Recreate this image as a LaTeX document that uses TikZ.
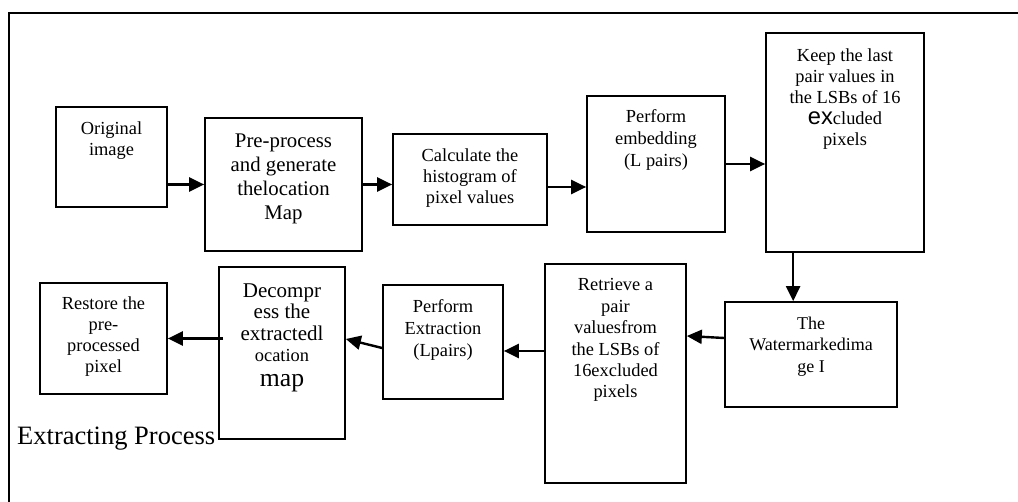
\documentclass[tikz,border=0pt]{standalone}
\usepackage{fontspec}
\setmainfont{Liberation Serif}
\setsansfont{Liberation Sans}
\usetikzlibrary{arrows.meta,positioning}

\tikzset{
	box/.style={draw, line width=1.7pt, inner sep=0pt},
	txt/.style={align=center, inner sep=0pt, font=\fontsize{18.4}{21}\selectfont},
	arr/.style={->, line width=2.4pt},
}

\begin{document}
\begin{tikzpicture}[x=1pt, y=-1pt, >={Triangle[length=15pt,width=14pt]}]
	\useasboundingbox (0,0) rectangle (1018,502);
	\draw[line width=2.2pt] (9,13) rectangle (1040,530);

	% embedding process
	\node[box, minimum width=111pt, minimum height=100pt] (orig) at (111.5,157) {};
	\node[box, minimum width=157pt, minimum height=133pt] (pre) at (283.5,184.5) {};
	\node[box, minimum width=154pt, minimum height=91pt] (calc) at (470,179.5) {};
	\node[box, minimum width=138pt, minimum height=136pt] (embed) at (656,164) {};
	\node[box, minimum width=158pt, minimum height=219pt] (keep) at (845,142.5) {};

	% extracting process
	\node[box, minimum width=172pt, minimum height=105pt] (wm) at (811,354.5) {};
	\node[box, minimum width=141pt, minimum height=219pt] (retr) at (615.5,373.5) {};
	\node[box, minimum width=120pt, minimum height=114pt] (pext) at (443,342) {};
	\node[box, minimum width=126pt, minimum height=172pt] (decomp) at (282,353) {};
	\node[box, minimum width=127pt, minimum height=111pt] (restore) at (103.5,338.5) {};

	\node[txt, below=15.4pt of orig.north] (origT) {Original\\image};
	\node[txt, font=\fontsize{20.8}{24}\selectfont, below=17pt of pre.north] (preT) {Pre-process\\and generate\\thelocation\\Map};
	\node[txt, below=15.4pt of calc.north] (calcT) {Calculate the\\histogram of\\pixel values};
	\node[txt, font=\fontsize{18.4}{22}\selectfont, below=14.4pt of embed.north] (embedT) {Perform\\embedding\\(L pairs)};
	\node[txt, below=16.4pt of keep.north] (keepT) {Keep the last\\pair values in\\the LSBs of 16\\{\sffamily\fontsize{23.7}{24}\selectfont ex}cluded\\pixels};
	\node[txt, font=\fontsize{18}{21.5}\selectfont, below=15.4pt of wm.north] (wmT) {The\\Watermarkedima\\ge I};
	\node[txt, font=\fontsize{18.4}{21.4}\selectfont, below=15.4pt of retr.north] (retrT) {Retrieve a\\pair\\valuesfrom\\the LSBs of\\16excluded\\pixels};
	\node[txt, font=\fontsize{18.4}{22}\selectfont, below=15.4pt of pext.north] (pextT) {Perform\\Extraction\\(Lpairs)};
	\node[txt, font=\fontsize{21}{21.5}\selectfont, below=17pt of decomp.north] (decompT) {Decompr\\ess the\\extractedl\\{\fontsize{18.4}{21}\selectfont ocation}\\[3pt]{\fontsize{25.7}{26}\selectfont map}};
	\node[txt, below=14.4pt of restore.north] (restoreT) {Restore the\\pre-\\processed\\pixel};

	\node[anchor=base west, inner sep=0pt, font=\fontsize{26.5}{30}\selectfont] (title) at (17,445) {Extracting Process};

	\draw[arr] (orig.east |- pre.west) -- (pre.west);
	\draw[arr] (pre.east) -- (pre.east -| calc.west);
	\draw[arr] ([yshift=-7.5pt]calc.east) -- ([yshift=-7.5pt]calc.east -| embed.west);
	\draw[arr] (embed.east) -- (embed.east -| keep.west);
	\draw[arr] ([xshift=28pt]keep.south west) -- ([xshift=28pt]keep.south west |- wm.north);
	\draw[arr] ([yshift=16.5pt]wm.west) -- ([yshift=37.5pt]retr.east);
	\draw[arr] ([yshift=22.5pt]retr.west) -- ([yshift=22.5pt]retr.west -| pext.east);
	\draw[arr] ([yshift=-6pt]pext.west) -- ([yshift=14pt]decomp.east);
	\draw[arr] ([xshift=5pt]decomp.west |- restore.east) -- (restore.east);
\end{tikzpicture}
\end{document}
